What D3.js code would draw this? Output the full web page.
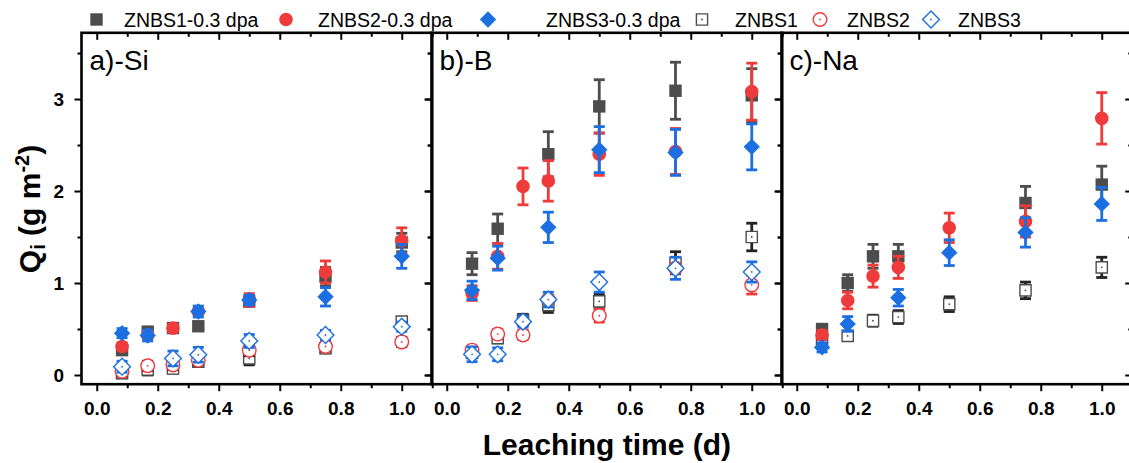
<!DOCTYPE html>
<html>
<head>
<meta charset="utf-8">
<script src="https://cdn.jsdelivr.net/npm/d3@7"></script>
<style>
  body { margin: 0; background: #fff; }
  svg { display: block; }
  text { font-family: "Liberation Sans", Arial, sans-serif; }
</style>
</head>
<body>
<svg id="chart" width="1129" height="463"></svg>
<script>
// Leaching times (days): 2 h, 4 h, 6 h, 8 h, 12 h, 18 h, 24 h
const times = [0.083, 0.167, 0.25, 0.333, 0.5, 0.75, 1.0];
const seriesNames = ["ZNBS1-0.3 dpa", "ZNBS2-0.3 dpa", "ZNBS3-0.3 dpa", "ZNBS1", "ZNBS2", "ZNBS3"];
const panelLabels = ["a)-Si", "b)-B", "c)-Na"];
const xTickLabels = [0, 0.2, 0.4, 0.6, 0.8, 1.0];
const yTickLabels = [0, 1, 2, 3];

// Normalised mass loss Q_i (g m^-2), irradiated (0.3 dpa) and pristine glasses
// Si
const siIrr1 = [0.27, 0.47, 0.51, 0.53, 0.80, 1.07, 1.44];
const siIrr1Err = [0.04, 0.05, 0.04, 0.04, 0.05, 0.10, 0.10];
const siIrr2 = [0.31, 0.435, 0.51, 0.69, 0.815, 1.12, 1.46];
const siIrr2Err = [0.04, 0.04, 0.04, 0.04, 0.07, 0.12, 0.14];
const siIrr3 = [0.455, 0.43, null, 0.69, 0.815, 0.85, 1.29];
const siIrr3Err = [0.05, 0.06, null, 0.06, 0.05, 0.10, 0.13];
const siRef1 = [0.02, 0.06, 0.07, 0.145, 0.18, 0.29, 0.58];
const siRef1Err = [0.05, 0.06, 0.05, 0.05, 0.07, 0.05, 0.04];
const siRef2 = [0.04, 0.10, 0.11, 0.16, 0.27, 0.31, 0.36];
const siRef2Err = [0.05, 0.05, 0.05, 0.05, 0.06, 0.05, 0.05];
const siRef3 = [0.09, null, 0.18, 0.22, 0.37, 0.435, 0.525];
const siRef3Err = [0.06, null, 0.08, 0.08, 0.07, 0.05, 0.05];

// B
const bIrr1 = [1.21, 1.59, null, 2.40, 2.92, 3.09, 3.04];
const bIrr1Err = [0.12, 0.16, null, 0.245, 0.29, 0.31, 0.29];
const bIrr2 = [0.89, 1.29, 2.05, 2.11, 2.40, 2.43, 3.08];
const bIrr2Err = [0.08, 0.14, 0.20, 0.22, 0.23, 0.25, 0.31];
const bIrr3 = [0.92, 1.27, null, 1.605, 2.45, 2.42, 2.48];
const bIrr3Err = [0.10, 0.13, null, 0.165, 0.25, 0.25, 0.25];
const bRef1 = [0.24, 0.40, 0.60, 0.76, 0.80, 1.22, 1.50];
const bRef1Err = [0.04, 0.05, 0.06, 0.08, 0.08, 0.12, 0.15];
const bRef2 = [0.27, 0.445, 0.435, 0.82, 0.645, 1.16, 0.98];
const bRef2Err = [0.04, 0.05, 0.05, 0.04, 0.07, 0.05, 0.10];
const bRef3 = [0.225, 0.225, 0.58, 0.82, 1.01, 1.16, 1.12];
const bRef3Err = [0.08, 0.07, 0.06, 0.08, 0.11, 0.12, 0.11];

// Na
const naIrr1 = [0.50, 1.00, 1.29, 1.29, null, 1.87, 2.07];
const naIrr1Err = [0.05, 0.09, 0.13, 0.13, null, 0.18, 0.20];
const naIrr2 = [0.435, 0.81, 1.075, 1.17, 1.60, 1.67, 2.79];
const naIrr2Err = [0.05, 0.09, 0.12, 0.12, 0.16, 0.17, 0.28];
const naIrr3 = [0.30, 0.555, null, 0.84, 1.33, 1.55, 1.86];
const naIrr3Err = [0.05, 0.08, null, 0.09, 0.14, 0.16, 0.18];
const naRef1 = [0.38, 0.425, 0.59, 0.63, 0.77, 0.92, 1.17];
const naRef1Err = [0.06, 0.05, 0.06, 0.07, 0.08, 0.09, 0.11];
const naRef2 = [null, null, null, null, null, null, null];
const naRef2Err = [null, null, null, null, null, null, null];
const naRef3 = [null, null, null, null, null, null, null];
const naRef3Err = [null, null, null, null, null, null, null];

const panelSeries = [
  [[siIrr1, siIrr1Err], [siIrr2, siIrr2Err], [siIrr3, siIrr3Err], [siRef1, siRef1Err], [siRef2, siRef2Err], [siRef3, siRef3Err]],
  [[bIrr1, bIrr1Err], [bIrr2, bIrr2Err], [bIrr3, bIrr3Err], [bRef1, bRef1Err], [bRef2, bRef2Err], [bRef3, bRef3Err]],
  [[naIrr1, naIrr1Err], [naIrr2, naIrr2Err], [naIrr3, naIrr3Err], [naRef1, naRef1Err], [naRef2, naRef2Err], [naRef3, naRef3Err]]
];

// ---- appearance ----
const GRAY = "#4d4d4d", RED = "#ef3b3b", BLUE = "#1c6fe0";
const styles = [
  { shape: "square",  open: false, color: GRAY, bar: GRAY },
  { shape: "circle",  open: false, color: RED,  bar: RED },
  { shape: "diamond", open: false, color: BLUE, bar: BLUE },
  { shape: "square",  open: true,  color: GRAY, bar: "#222" },
  { shape: "circle",  open: true,  color: RED,  bar: RED },
  { shape: "diamond", open: true,  color: BLUE, bar: BLUE }
];
// in the Si panel the pristine ZNBS2 error bars are drawn in black
const barOverride = { "0-4": "#111" };
// pristine series first, irradiated ones on top
const drawOrder = [3, 4, 5, 0, 1, 2];

function markerPath(shape, open) {
  if (shape === "square") {
    const s = open ? 5.6 : 6.2;
    return `M${-s},${-s}H${s}V${s}H${-s}Z`;
  }
  if (shape === "circle") {
    const r = 6.8;
    return `M${r},0A${r},${r},0,1,1,${-r},0A${r},${r},0,1,1,${r},0Z`;
  }
  const h = open ? 8.4 : 8.2;
  return `M0,${-h}L${h},0L0,${h}L${-h},0Z`;
}

function drawMarker(g, st) {
  g.append("path")
    .attr("d", markerPath(st.shape, st.open))
    .attr("fill", st.open ? "#fff" : st.color)
    .attr("stroke", st.open ? st.color : "none")
    .attr("stroke-width", st.open ? 1.4 : 0);
  if (st.open) {
    g.append("circle").attr("r", 0.9).attr("fill", st.color);
  }
}

const svg = d3.select("#chart");

const panelLeft = 81.5, panelStep = 350, panelW = 350.75;
const plotTop = 32.8, plotBottom = 384.2;

const x = d3.scaleLinear().domain([-0.05, 1.1]).range([0, panelW]);
const y = d3.scaleLinear().domain([-0.1, 3.72]).range([plotBottom, plotTop]);

const xMajor = xTickLabels;
const xMinor = [0.1, 0.3, 0.5, 0.7, 0.9, 1.1];
const yMajor = yTickLabels;
const yMinor = [0.5, 1.5, 2.5, 3.5];

panelSeries.forEach((series, p) => {
  const g = svg.append("g").attr("transform", `translate(${panelLeft + p * panelStep},0)`);

  // data: error bars then markers
  drawOrder.forEach(si => {
    const [vals, errs] = series[si];
    const st = styles[si];
    const barColor = barOverride[`${p}-${si}`] || st.bar;
    const pts = times.map((t, i) => ({ t, v: vals[i], e: errs[i] })).filter(d => d.v != null);
    const sg = g.append("g");
    pts.forEach(d => {
      const cx = x(d.t), y1 = y(d.v + d.e), y0 = y(d.v - d.e);
      const eb = sg.append("g").attr("stroke", barColor).attr("stroke-width", 2.8).attr("fill", "none");
      eb.append("line").attr("x1", cx).attr("x2", cx).attr("y1", y1).attr("y2", y0);
      eb.append("line").attr("x1", cx - 5.5).attr("x2", cx + 5.5).attr("y1", y1).attr("y2", y1);
      eb.append("line").attr("x1", cx - 5.5).attr("x2", cx + 5.5).attr("y1", y0).attr("y2", y0);
    });
    pts.forEach(d => {
      const mg = sg.append("g").attr("transform", `translate(${x(d.t)},${y(d.v)})`);
      drawMarker(mg, st);
    });
  });

  // axes
  const styleAxis = a => {
    a.select(".domain").remove();
    a.selectAll(".tick line").attr("stroke", "#000").attr("stroke-width", 2);
    a.selectAll("text").attr("font-size", 19).attr("font-weight", "bold").attr("fill", "#000")
      .attr("font-family", "'Liberation Sans', Arial, sans-serif");
  };

  g.append("g").attr("transform", `translate(0,${plotBottom})`)
    .call(d3.axisBottom(x).tickValues(xMajor).tickSize(7).tickPadding(10.5).tickFormat(d3.format(".1f")))
    .call(styleAxis);
  g.append("g").attr("transform", `translate(0,${plotBottom})`)
    .call(d3.axisBottom(x).tickValues(xMinor).tickSize(4).tickFormat(""))
    .call(styleAxis);

  g.append("g").attr("transform", `translate(0,${plotTop})`)
    .call(d3.axisTop(x).tickValues(xMajor).tickSize(-7).tickFormat(""))
    .call(styleAxis);
  g.append("g").attr("transform", `translate(0,${plotTop})`)
    .call(d3.axisTop(x).tickValues(xMinor).tickSize(-4).tickFormat(""))
    .call(styleAxis);

  g.append("g")
    .call(d3.axisLeft(y).tickValues(yMajor).tickSize(7).tickPadding(10.5).tickFormat(p === 0 ? d3.format("d") : ""))
    .call(styleAxis);
  g.append("g")
    .call(d3.axisLeft(y).tickValues(yMinor).tickSize(4).tickFormat(""))
    .call(styleAxis);

  g.append("g").attr("transform", `translate(${panelW},0)`)
    .call(d3.axisRight(y).tickValues(yMajor).tickSize(-7).tickFormat(""))
    .call(styleAxis);
  g.append("g").attr("transform", `translate(${panelW},0)`)
    .call(d3.axisRight(y).tickValues(yMinor).tickSize(-4).tickFormat(""))
    .call(styleAxis);

  // frame
  g.append("rect")
    .attr("x", 0).attr("y", plotTop)
    .attr("width", panelW).attr("height", plotBottom - plotTop)
    .attr("fill", "none").attr("stroke", "#000").attr("stroke-width", 2.6);

  g.append("text")
    .attr("x", 8).attr("y", 70)
    .attr("font-size", 28)
    .attr("fill", "#000")
    .text(panelLabels[p]);
});

// axis titles
const yTitle = svg.append("text")
  .attr("transform", "translate(40,209) rotate(-90)")
  .attr("text-anchor", "middle")
  .attr("font-size", 30).attr("font-weight", "bold").attr("fill", "#000");
yTitle.append("tspan").text("Q");
yTitle.append("tspan").attr("font-size", 20).attr("baseline-shift", "-5").text("i");
yTitle.append("tspan").text(" (g m");
yTitle.append("tspan").attr("font-size", 20).attr("baseline-shift", "11").text("-2");
yTitle.append("tspan").text(")");

svg.append("text")
  .attr("x", panelLeft + panelStep + panelW / 2).attr("y", 455)
  .attr("text-anchor", "middle")
  .attr("font-size", 30).attr("font-weight", "bold").attr("fill", "#000")
  .text("Leaching time (d)");

// legend
const legendSymX = [96.5, 286, 488, 702, 820, 931];
const legendTextX = [124, 318, 546, 735, 847, 958];
seriesNames.forEach((name, i) => {
  const mg = svg.append("g").attr("transform", `translate(${legendSymX[i]},19.5)`);
  drawMarker(mg, styles[i]);
  svg.append("text")
    .attr("x", legendTextX[i]).attr("y", 26.5)
    .attr("font-size", 19.5).attr("fill", "#000")
    .text(name);
});
</script>
</body>
</html>
